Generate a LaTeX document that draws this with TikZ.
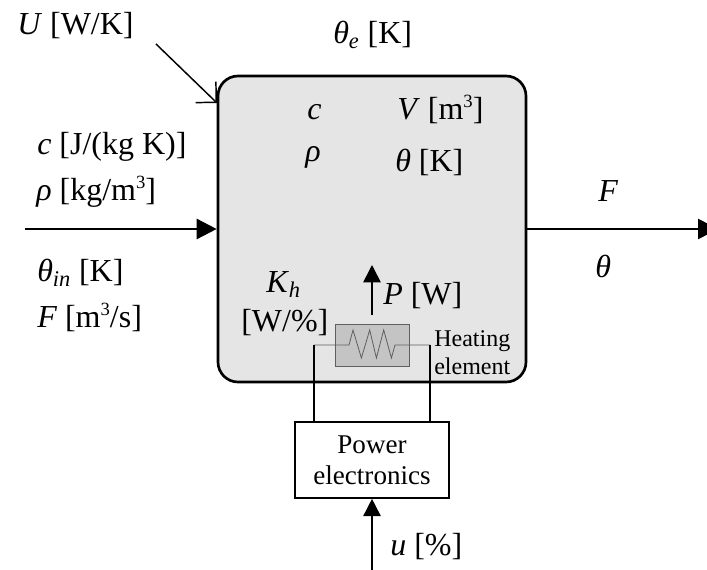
\documentclass[tikz,border=0pt]{standalone}
\usepackage{fontspec}
\setmainfont{Liberation Serif}
\definecolor{tankgray}{RGB}{229,229,229}
\definecolor{heatgray}{RGB}{196,196,196}
\definecolor{wiregray}{RGB}{95,95,95}
\usetikzlibrary{arrows.meta}
\usetikzlibrary{positioning}
\tikzset{
  bigtext/.style={font=\fontsize{24}{28}\selectfont, inner sep=0pt, anchor=base west},
  smalltext/.style={font=\fontsize{18}{20}\selectfont, inner sep=0pt, anchor=base west},
  flow/.style={line width=2pt, -{Triangle[length=15pt, width=15pt]}},
  signal/.style={line width=1.2pt, -{Triangle[length=13pt, width=13pt]}},
  wire/.style={line width=1.2pt},
}
\newcommand{\itt}[1]{\textit{#1}}
\newcommand{\cube}{\raisebox{0.38em}{\fontsize{14}{14}\selectfont 3}}

\begin{document}
\begin{tikzpicture}[x=0.75pt, y=-0.75pt]
  \useasboundingbox (0,0) rectangle (707,570);

  \node [draw, line width=2pt, fill=tankgray, rounded corners=15pt, minimum width=231pt, minimum height=229.5pt] (tank) at (372,229) {};
  \node [draw=wiregray, line width=0.5pt, fill=heatgray, minimum width=55.5pt, minimum height=31.5pt, inner sep=0pt] (heater) at (372,345) {};
  \node [draw, line width=1.2pt, fill=white, minimum width=115.5pt, minimum height=57pt, inner sep=0pt, align=center, font=\fontsize{20.3}{23.5}\selectfont] (power) at (372,460) {Power\\electronics};

  % free ends
  \coordinate (inlet) at (25,229);
  \coordinate (outlet) at (718,229);
  \coordinate (ufoot) at (372,570);
  \coordinate (pfoot) at (372,315);
  \coordinate (ptip) at (372,265);
  \coordinate (ustart) at (156,44);
  \coordinate (uend) at (217,103);
  \coordinate (wirel) at (314,345);
  \coordinate (wirer) at (430,345);
  \coordinate (resl) at (349,345);
  \coordinate (resr) at (395,345);

  \draw [flow] (inlet) -- (tank.west);
  \draw [flow] (tank.east) -- (outlet);
  \draw [signal] (ufoot) -- (power.south);
  \draw [signal] (pfoot) -- (ptip);
  \draw [line width=1.1pt, -{Straight Barb[length=11pt, width=22pt]}] (ustart) -- (uend);

  % heating element
  \draw [wiregray, line width=0.6pt] (wirel) -- (resl) -- ++(4,-15) -- ++(8.4,28) -- ++(8.3,-28) -- ++(6.7,28) -- ++(7.3,-28) -- ++(7.7,28) -- (resr) -- (wirer);
  \draw [wire] (power.north -| wirel) -- (wirel);
  \draw [wire] (power.north -| wirer) -- (wirer);

  \node [bigtext] (ulabel) at (17,35) {\itt{U} [W/K]};
  \node [bigtext] (thetae) at (333,44) {\itt{θ}\textsubscript{\itt{e}} [K]};
  \node [bigtext] (cin) at (37,155) {\itt{c} [J/(kg K)]};
  \node [bigtext] (rhoin) at (36,201) {\itt{ρ} [kg/m\cube]};
  \node [bigtext] (thetain) at (37,282) {\itt{θ}\textsubscript{\itt{in}} [K]};
  \node [bigtext] (fin) at (37,328) {\itt{F} [m\cube/s]};
  \node [bigtext] (ctank) at (307,120) {\itt{c}};
  \node [bigtext] (vtank) at (397,120) {\itt{V} [m\cube]};
  \node [bigtext] (rhotank) at (305,162) {\itt{ρ}};
  \node [bigtext] (thetatank) at (395,172) {\itt{θ} [K]};
  \node [bigtext] (fout) at (598,202) {\itt{F}};
  \node [bigtext] (thetaout) at (595,278) {\itt{θ}};
  \node [bigtext] (kh) at (266,293) {\itt{K}\textsubscript{\itt{h}}};
  \node [bigtext] (khunit) at (241,332) {[W/\%]};
  \node [bigtext] (plabel) at (383,305) {\itt{P} [W]};
  \node [bigtext] (ulab) at (390,555) {\itt{u} [\%]};
  \node [smalltext] (heating) at (434,347) {Heating};
  \node [smalltext] (element) at (434,374) {element};
\end{tikzpicture}
\end{document}
